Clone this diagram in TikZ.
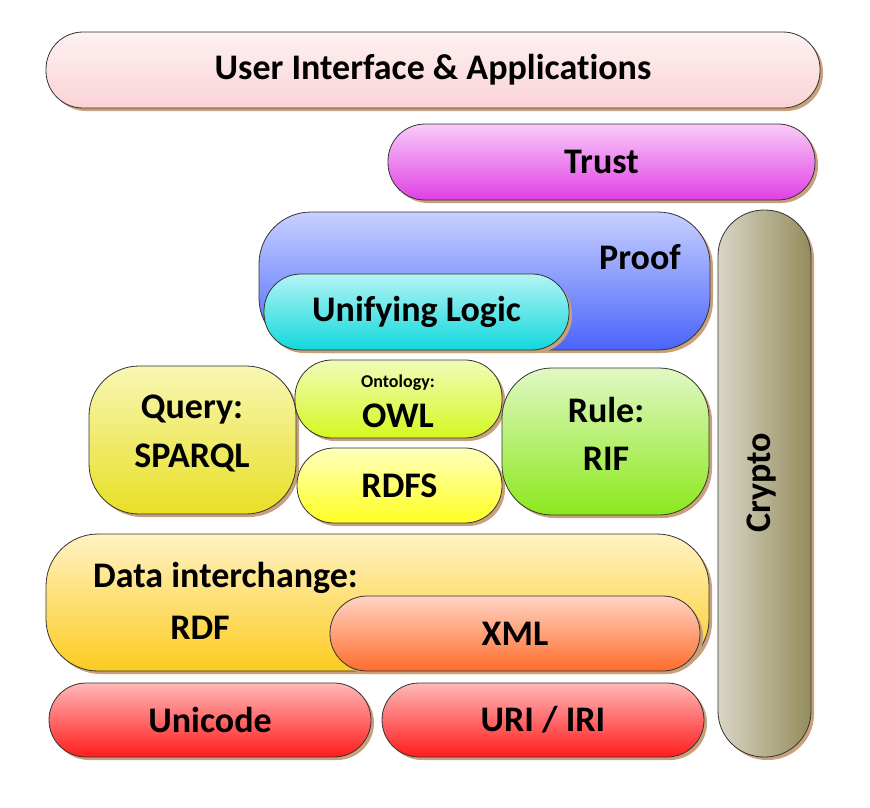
\documentclass[tikz,border=0pt]{standalone}
\usepackage{fontspec}
\setmainfont{Carlito}[Ligatures=CommonOff]
\usetikzlibrary{shadows}

\definecolor{shadowbrown}{HTML}{C8A07C}
\definecolor{uitop}{HTML}{FEF2F2}   \definecolor{uibot}{HTML}{FAD2D6}
\definecolor{trusttop}{HTML}{F9CCF9}\definecolor{trustbot}{HTML}{E040E4}
\definecolor{prooftop}{HTML}{C8D0FF}\definecolor{proofbot}{HTML}{4A64FA}
\definecolor{logictop}{HTML}{B4F4F4}\definecolor{logicbot}{HTML}{10D8DC}
\definecolor{cryptol}{HTML}{DAD6C6} \definecolor{cryptor}{HTML}{948C5C}
\definecolor{querytop}{HTML}{F8F6B4}\definecolor{querybot}{HTML}{E8E024}
\definecolor{owltop}{HTML}{F0FCB8}  \definecolor{owlbot}{HTML}{D4F820}
\definecolor{rdfstop}{HTML}{FFFFBC} \definecolor{rdfsbot}{HTML}{FFFF22}
\definecolor{riftop}{HTML}{E0F8C4}  \definecolor{rifbot}{HTML}{8CE81C}
\definecolor{rdftop}{HTML}{FFF2C4}  \definecolor{rdfbot}{HTML}{FCCC20}
\definecolor{xmltop}{HTML}{FFD4C4}  \definecolor{xmlbot}{HTML}{FF6C2C}
\definecolor{unitop}{HTML}{FFB8B8}  \definecolor{unibot}{HTML}{FF1C1C}

\tikzset{
  layer/.style={draw=black!80, line width=0.8pt, rounded corners=#1,
    drop shadow={shadow xshift=3pt, shadow yshift=-3pt, fill=shadowbrown, opacity=1},
    font=\bfseries\fontsize{36}{40}\selectfont, align=center, inner sep=0pt},
  layer/.default=37pt,
  vgrad/.style 2 args={top color=#1, bottom color=#2},
  txt/.style={font=\bfseries\fontsize{36}{40}\selectfont, inner sep=0pt},
  smalltxt/.style={font=\bfseries\fontsize{18}{20}\selectfont, inner sep=0pt}
}

\begin{document}
\begin{tikzpicture}[x=1pt, y=-1pt]
\useasboundingbox (0,0) rectangle (870,807);
% top layers
\node[layer, vgrad={uitop}{uibot}, minimum width=774, minimum height=76] (ui) at (433,70) {User Interface \& Applications};
\node[layer, vgrad={trusttop}{trustbot}, minimum width=427, minimum height=76] (trust) at (601.5,162) {Trust};
% proof + logic
\node[layer=52pt, vgrad={prooftop}{proofbot}, minimum width=451, minimum height=138] (proof) at (484.5,281) {};
\node[txt] (prooftxt) at (640,257) {Proof};
\node[layer, vgrad={logictop}{logicbot}, minimum width=305, minimum height=76] (logic) at (416.5,312) {Unifying Logic};
% crypto column
\node[layer=46pt, left color=cryptol, right color=cryptor, minimum width=93, minimum height=547] (crypto) at (764.5,483.5) {};
\node[txt, rotate=90] (cryptotxt) at (762,483) {Crypto};
% query, ontology, rules
\node[layer=50pt, vgrad={querytop}{querybot}, minimum width=207, minimum height=148] (query) at (192.5,440) {};
\node[txt] (querytxt) at (192,410) {Query:};
\node[txt] (sparqltxt) at (192,458) {SPARQL};
\node[layer, vgrad={owltop}{owlbot}, minimum width=207, minimum height=78] (owl) at (398.5,399) {};
\node[smalltxt] (ontotxt) at (398,383) {Ontology:};
\node[txt] (owltxt) at (398,416) {OWL};
\node[layer, vgrad={rdfstop}{rdfsbot}, minimum width=205, minimum height=75] (rdfs) at (399.5,485.5) {RDFS};
\node[layer=50pt, vgrad={riftop}{rifbot}, minimum width=207, minimum height=147] (rif) at (605.5,441.5) {};
\node[txt] (ruletxt) at (606,410) {Rule:};
\node[txt] (riftxt) at (606,459) {RIF};
% data interchange
\node[layer=52pt, vgrad={rdftop}{rdfbot}, minimum width=663, minimum height=137] (rdf) at (377.5,602.5) {};
\node[txt, anchor=west] (datatxt) at (93,578) {Data interchange:};
\node[txt] (rdftxt) at (200,628) {RDF};
\node[layer, vgrad={xmltop}{xmlbot}, minimum width=370, minimum height=75] (xml) at (515,633.5) {XML};
% bottom
\node[layer, vgrad={unitop}{unibot}, minimum width=322, minimum height=74] (unicode) at (210,720) {Unicode};
\node[layer, vgrad={unitop}{unibot}, minimum width=322, minimum height=74] (uri) at (543,720) {URI / IRI};
\end{tikzpicture}
\end{document}
